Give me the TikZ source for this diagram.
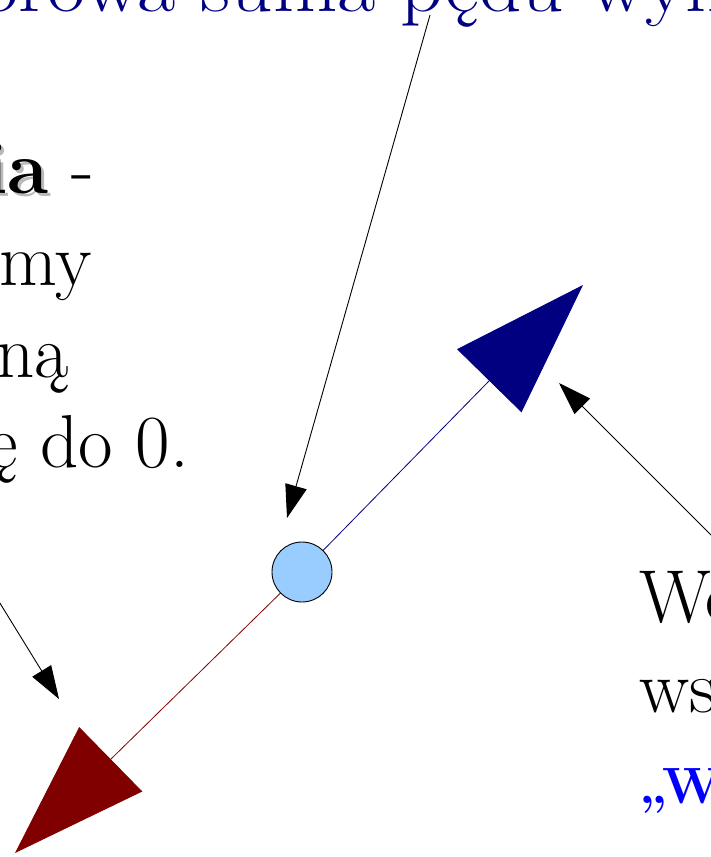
\documentclass[tikz,border=0pt]{standalone}
\usepackage{fontspec}
\usepackage{graphicx}
\usetikzlibrary{arrows.meta}
\definecolor{navyc}{RGB}{0,0,128}
\definecolor{maroonc}{RGB}{128,0,0}
\definecolor{ballc}{RGB}{153,204,255}
\definecolor{bluec}{RGB}{0,0,255}
\definecolor{shadowc}{RGB}{185,185,185}
\begin{document}
\begin{tikzpicture}[x=1pt,y=-1pt,
  big/.style={font=\fontsize{75}{90}\selectfont, inner sep=0pt},
  pointer/.style={black, line width=0.9pt, -{Triangle[length=33pt,width=22pt]}},
  vecline/.style={line width=0.8pt, -{Triangle[length=134pt,width=90pt]}}]
\useasboundingbox (0,0) rectangle (711,857);
\clip (0,0) rectangle (711,857);
% texts
\node[big, text=navyc, anchor=base west] (topline) at (-20,11) {\scalebox{1.11}[1]{orowa suma pędu wyn}};
\node[big, anchor=base east] (l1) at (94,193) {\rlap{\hspace{3pt}\raisebox{-3pt}{\textcolor{shadowc}{\bfseries ia}}}{\bfseries ia} -};
\node[big, anchor=base east] (l2) at (92,285) {my};
\node[big, anchor=base east] (l3) at (69,377) {ną};
\node[big, anchor=base east] (l4) at (189,467) {ę do 0.};
\node[big, anchor=base west] (r1) at (639,622) {We};
\node[big, anchor=base west] (r2) at (639,712) {ws};
\node[font=\fontsize{51}{60}\selectfont\bfseries, text=bluec, inner sep=0pt, anchor=base west] (r3) at (639,803) {„W};
% ball and vectors
\node[circle, draw=black, line width=0.9pt, fill=ballc, minimum size=60pt, inner sep=0pt] (ball) at (302,572) {};
\coordinate (tipN) at (583,285);
\coordinate (tipS) at (15,853);
\draw[vecline, navyc] (ball) -- (tipN);
\draw[vecline, maroonc] (ball) -- (tipS);
% pointers
\coordinate (p1s) at (430,15);
\coordinate (p1e) at (287,518);
\coordinate (p2s) at (-10,587);
\coordinate (p2e) at (59,699);
\coordinate (p3s) at (721,545);
\coordinate (p3e) at (559,383);
\draw[pointer] (p1s) -- (p1e);
\draw[pointer] (p2s) -- (p2e);
\draw[pointer] (p3s) -- (p3e);
\end{tikzpicture}
\end{document}
